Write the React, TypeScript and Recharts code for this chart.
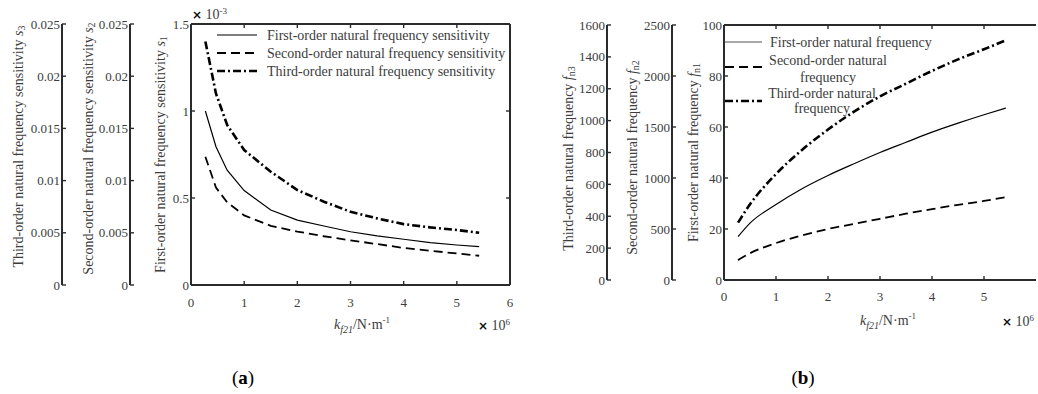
import React from 'react';
import { ComposedChart, Line, XAxis, YAxis } from 'recharts';

// stiffness k_f21 (×10^6 N/m)
const kA = [0.27, 0.47, 0.68, 1.0, 1.5, 2.0, 2.5, 3.0, 3.5, 4.0, 4.5, 5.0, 5.42];
// sensitivities (s1 in ×10^-3, s2 / s3 on their own axes)
const sens1 = [1.0, 0.795, 0.66, 0.543, 0.431, 0.373, 0.339, 0.306, 0.282, 0.263, 0.243, 0.23, 0.22];
const sens2 = [0.01228, 0.00933, 0.00792, 0.00667, 0.00567, 0.00512, 0.00467, 0.00428, 0.00392, 0.00355, 0.00328, 0.00302, 0.0028];
const sens3 = [0.02333, 0.01833, 0.01533, 0.01293, 0.01085, 0.0091, 0.00798, 0.00702, 0.00638, 0.00583, 0.00552, 0.00527, 0.005];

const kB = [0.27, 0.5, 1.0, 1.5, 2.0, 2.5, 3.0, 3.5, 4.0, 4.5, 5.0, 5.42];
// natural frequencies
const freq1 = [17, 22.3, 29.6, 35.8, 41, 45.6, 50, 54, 58, 61.5, 64.8, 67.4];
const freq2 = [195, 262, 362, 437, 500, 550, 600, 650, 695, 737, 775, 812];
const freq3 = [360, 475, 665, 816, 944, 1056, 1152, 1232, 1312, 1384, 1448, 1504];

const xTicksA = [0, 1, 2, 3, 4, 5, 6];
const xTicksB = [0, 1, 2, 3, 4, 5];
const s1Ticks = [0, 0.5, 1, 1.5];
const s23Ticks = [0, 0.005, 0.01, 0.015, 0.02, 0.025];
const fn1Ticks = [0, 20, 40, 60, 80, 100];
const fn2Ticks = [0, 500, 1000, 1500, 2000, 2500];
const fn3Ticks = [0, 200, 400, 600, 800, 1000, 1200, 1400, 1600];

const legendA = ['First-order natural frequency sensitivity', 'Second-order natural frequency sensitivity', 'Third-order natural frequency sensitivity'];

const FONT = '"Liberation Serif", "Times New Roman", serif';
const AXIS = '#2b2b2b';
const TXT = '#3c3c3c';

const lineStyles = [
  { width: 1.2, dash: undefined },
  { width: 1.8, dash: '9 5' },
  { width: 2.6, dash: '8 3 2 3' },
];

const dataA = kA.map((k, i) => ({ k, s1: sens1[i], s2: sens2[i], s3: sens3[i] }));
const dataB = kB.map((k, i) => ({ k, f1: freq1[i], f2: freq2[i], f3: freq3[i] }));

const tickStyle = { fill: TXT, fontSize: 13, fontFamily: FONT };
const axisLine = { stroke: AXIS, strokeWidth: 2 };
const tickLine = { stroke: AXIS, strokeWidth: 1.4 };
const blank = () => '';

const yTitle = (main: string, sym: string, sub: string, dx: number, dy = 0) => (props: any) => {
  const vb = props.viewBox || {};
  const cx = vb.x + dx;
  const cy = vb.y + vb.height / 2 + dy;
  return (
    <text x={cx} y={cy} transform={`rotate(-90 ${cx} ${cy})`} textAnchor="middle" dominantBaseline="central"
      fontFamily={FONT} fontSize={14} fill={TXT}>
      {main}
      <tspan fontStyle="italic">{sym}</tspan>
      <tspan fontSize={10} dy={3}>{sub}</tspan>
    </text>
  );
};

const yAxisCommon = {
  type: 'number' as const,
  tickSize: -4,
  tickMargin: 6,
  interval: 0 as const,
  stroke: AXIS,
  axisLine,
  tickLine,
  tick: tickStyle,
  allowDataOverflow: true,
};

const Abs = ({ x, y, children, center = false, style = {} }: any) => (
  <div style={{
    position: 'absolute', left: x, top: y, fontFamily: FONT, fontSize: 14, color: TXT, lineHeight: 1,
    whiteSpace: 'nowrap', transform: center ? 'translate(-50%, -50%)' : 'translate(0, -50%)', ...style,
  }}>{children}</div>
);

const XTitle = () => (
  <span><i>k</i><sub style={{ fontSize: 10, fontStyle: 'italic' }}>f21</sub>/N·m<sup style={{ fontSize: 9 }}>-1</sup></span>
);

const Mult = ({ exp }: { exp: string }) => (
  <span><b style={{ fontFamily: 'DejaVu Sans', fontSize: 12, color: '#111' }}>×</b> 10<sup style={{ fontSize: 9 }}>{exp}</sup></span>
);

export default function App() {
  return (
    <div style={{ position: 'absolute', left: 0, top: 0, width: 1038, height: 394, background: '#fff', overflow: 'hidden' }}>
      <ComposedChart id="panelA" style={{ position: 'absolute', left: 0, top: 0 }} width={520} height={394} data={dataA}
        margin={{ top: 23, right: 9, bottom: 79, left: 0 }}>
        <XAxis xAxisId="b" dataKey="k" type="number" domain={[0, 6]} ticks={xTicksA} interval={0}
          tickSize={-4} tickMargin={17} height={30} stroke={AXIS} axisLine={axisLine} tickLine={tickLine} tick={tickStyle} />
        <XAxis xAxisId="t" orientation="top" dataKey="k" type="number" domain={[0, 6]} ticks={xTicksA} interval={0}
          tickSize={-4} height={1} stroke={AXIS} axisLine={axisLine} tickLine={tickLine} tickFormatter={blank} />
        <YAxis yAxisId="s1" {...yAxisCommon} domain={[0, 1.5]} ticks={s1Ticks} width={61}
          label={yTitle('First-order natural frequency sensitivity ', 's', '1', 30)} />
        <YAxis yAxisId="s2" {...yAxisCommon} domain={[0, 0.025]} ticks={s23Ticks} width={68}
          label={yTitle('Second-order natural frequency sensitivity ', 's', '2', 26, -6)} />
        <YAxis yAxisId="s3" {...yAxisCommon} domain={[0, 0.025]} ticks={s23Ticks} width={62}
          label={yTitle('Third-order natural frequency sensitivity ', 's', '3', 18, -8)} />
        <YAxis yAxisId="r" orientation="right" type="number" domain={[0, 1.5]} ticks={s1Ticks} width={1}
          tickSize={-4} stroke={AXIS} axisLine={axisLine} tickLine={tickLine} tickFormatter={blank} allowDataOverflow />
        {/* invisible series that binds the box axes */}
        <Line xAxisId="t" yAxisId="r" dataKey="s1" stroke="none" dot={false} legendType="none" isAnimationActive={false} />
        <Line xAxisId="b" yAxisId="s1" dataKey="s1" type="linear" stroke="#000" strokeWidth={lineStyles[0].width}
          dot={false} isAnimationActive={false} />
        <Line xAxisId="b" yAxisId="s2" dataKey="s2" type="linear" stroke="#000" strokeWidth={lineStyles[1].width}
          strokeDasharray={lineStyles[1].dash} dot={false} isAnimationActive={false} />
        <Line xAxisId="b" yAxisId="s3" dataKey="s3" type="linear" stroke="#000" strokeWidth={lineStyles[2].width}
          strokeDasharray={lineStyles[2].dash} dot={false} isAnimationActive={false} />
      </ComposedChart>

      <ComposedChart id="panelB" style={{ position: 'absolute', left: 530, top: 0 }} width={508} height={394} data={dataB}
        margin={{ top: 24, right: 2, bottom: 84, left: 0 }}>
        <XAxis xAxisId="b" dataKey="k" type="number" domain={[0, 6]} ticks={xTicksB} interval={0}
          tickSize={-4} tickMargin={16} height={30} stroke={AXIS} axisLine={axisLine} tickLine={tickLine} tick={tickStyle} />
        <XAxis xAxisId="t" orientation="top" dataKey="k" type="number" domain={[0, 6]} ticks={xTicksB} interval={0}
          tickSize={-4} height={1} stroke={AXIS} axisLine={axisLine} tickLine={tickLine} tickFormatter={blank} />
        <YAxis yAxisId="f1" {...yAxisCommon} domain={[0, 100]} ticks={fn1Ticks} width={52}
          label={yTitle('First-order natural frequency ', 'f', 'n1', 21)} />
        <YAxis yAxisId="f2" {...yAxisCommon} domain={[0, 2500]} ticks={fn2Ticks} width={65}
          label={yTitle('Second-order natural frequency ', 'f', 'n2', 25, 5)} />
        <YAxis yAxisId="f3" {...yAxisCommon} domain={[0, 1600]} ticks={fn3Ticks} width={77}
          label={yTitle('Third-order natural frequency ', 'f', 'n3', 38, 6)} />
        <Line xAxisId="t" yAxisId="f1" dataKey="f1" stroke="none" dot={false} legendType="none" isAnimationActive={false} />
        <Line xAxisId="b" yAxisId="f1" dataKey="f1" type="monotone" stroke="#000" strokeWidth={lineStyles[0].width}
          dot={false} isAnimationActive={false} />
        <Line xAxisId="b" yAxisId="f2" dataKey="f2" type="monotone" stroke="#000" strokeWidth={lineStyles[1].width}
          strokeDasharray={lineStyles[1].dash} dot={false} isAnimationActive={false} />
        <Line xAxisId="b" yAxisId="f3" dataKey="f3" type="monotone" stroke="#000" strokeWidth={lineStyles[2].width}
          strokeDasharray={lineStyles[2].dash} dot={false} isAnimationActive={false} />
      </ComposedChart>

      {/* legends */}
      <svg width={1038} height={394} style={{ position: 'absolute', left: 0, top: 0, pointerEvents: 'none' }}>
        <g fontFamily={FONT} fontSize={14} fill={TXT}>
          {legendA.map((name, i) => (
            <g key={name}>
              <line x1={217} x2={257} y1={35 + i * 18} y2={35 + i * 18} stroke="#000"
                strokeWidth={lineStyles[i].width} strokeDasharray={lineStyles[i].dash} />
              <text x={267} y={35 + i * 18} dominantBaseline="central">{name}</text>
            </g>
          ))}
          <line x1={725} x2={762} y1={42} y2={42} stroke="#555" strokeWidth={1.2} />
          <text x={770} y={42} dominantBaseline="central">First-order natural frequency</text>
          <line x1={725} x2={762} y1={67} y2={67} stroke="#000" strokeWidth={lineStyles[1].width} strokeDasharray={lineStyles[1].dash} />
          <text x={828} y={60} textAnchor="middle" dominantBaseline="central">Second-order natural</text>
          <text x={828} y={77} textAnchor="middle" dominantBaseline="central">frequency</text>
          <line x1={725} x2={762} y1={101} y2={101} stroke="#000" strokeWidth={lineStyles[2].width} strokeDasharray={lineStyles[2].dash} />
          <text x={822} y={93} textAnchor="middle" dominantBaseline="central">Third-order natural</text>
          <text x={822} y={108} textAnchor="middle" dominantBaseline="central">frequency</text>
        </g>
      </svg>

      <Abs x={192} y={14}><Mult exp="-3" /></Abs>
      <Abs x={362} y={325} center><XTitle /></Abs>
      <Abs x={478} y={325}><Mult exp="6" /></Abs>
      <Abs x={888} y={321} center><XTitle /></Abs>
      <Abs x={1002} y={321}><Mult exp="6" /></Abs>
      <Abs x={243} y={377} center style={{ fontSize: 19, color: '#000' }}>(<b>a</b>)</Abs>
      <Abs x={803} y={377} center style={{ fontSize: 19, color: '#000' }}>(<b>b</b>)</Abs>
    </div>
  );
}
